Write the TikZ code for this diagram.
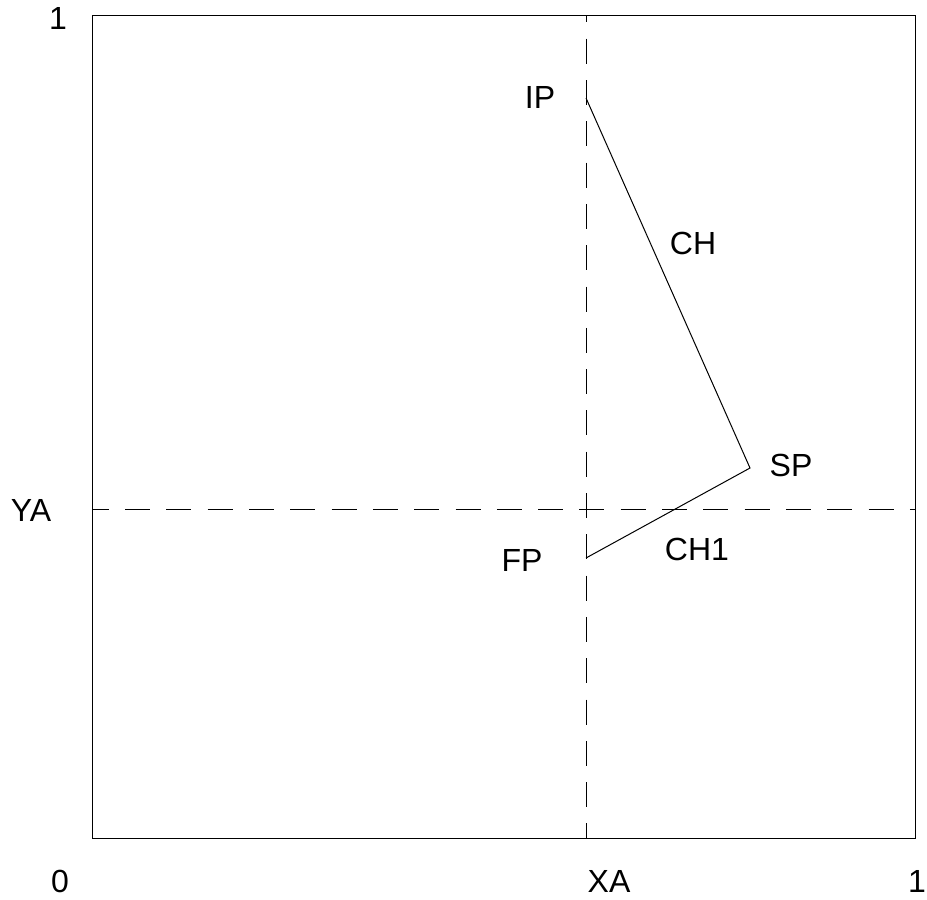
\documentclass[tikz,border=0pt]{standalone}
\usepackage{fontspec}
\setmainfont{Liberation Sans}
\begin{document}
\begin{tikzpicture}[x=1pt,y=-1pt,
  lbl/.style={inner sep=0pt,font=\fontsize{32}{38}\selectfont},
  thin line/.style={line width=1pt,black},
  dashy/.style={line width=1pt,black,dash pattern=on 25pt off 16.3pt}]
\useasboundingbox (0,0) rectangle (927,900);
\draw[thin line] (92,15) rectangle (915,838);
\coordinate (vt) at (586,15);
\coordinate (vb) at (586,838);
\coordinate (hl) at (92,509);
\coordinate (hr) at (915,509);
\draw[dashy,dash phase=17.6pt] (vt) -- (vb);
\draw[dashy,dash phase=8.2pt] (hl) -- (hr);
\coordinate (IP) at (586,98);
\coordinate (SP) at (750,468);
\coordinate (FP) at (586,558);
\draw[thin line,line join=miter] (IP) -- (SP) -- (FP);
\node[lbl] (one) at (58,18) {1};
\node[lbl] (zero) at (60,881) {0};
\node[lbl] (xa) at (609,881) {XA};
\node[lbl] (oner) at (917,881) {1};
\node[lbl] (ya) at (31,510) {YA};
\node[lbl] (ip) at (540,97.5) {IP};
\node[lbl] (ch) at (693,243) {CH};
\node[lbl] (sp) at (791,465) {SP};
\node[lbl] (fp) at (522,560) {FP};
\node[lbl] (ch1) at (697,549) {CH1};
\end{tikzpicture}
\end{document}
